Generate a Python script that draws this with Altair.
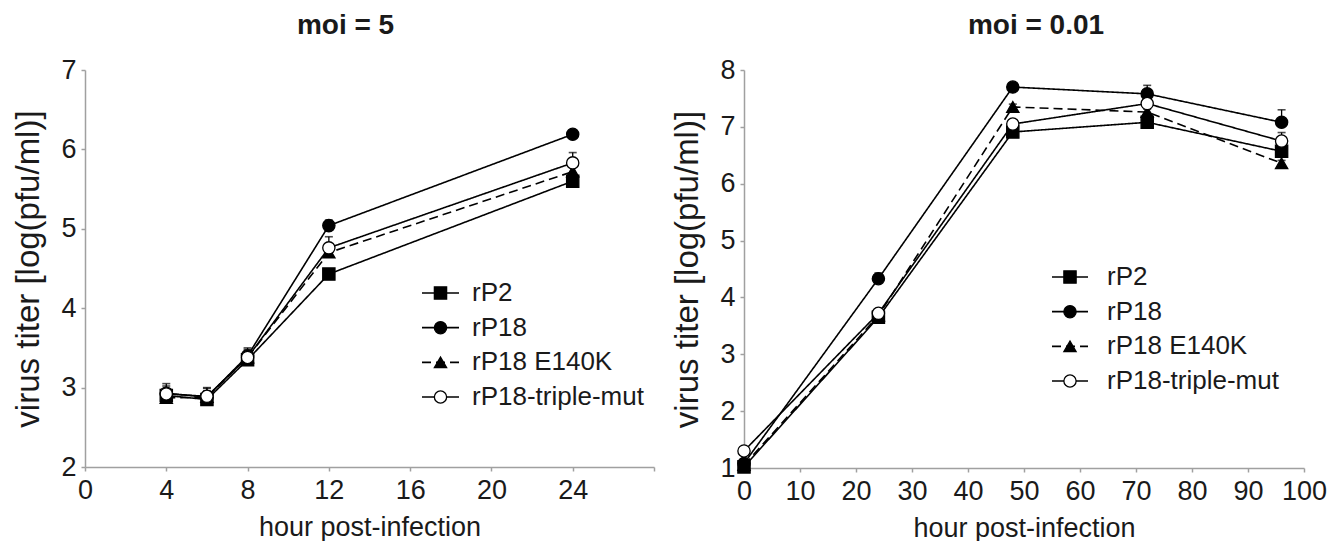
import altair as alt
import pandas as pd

FONT = "Liberation Sans"
series = ["rP2", "rP18", "rP18 E140K", "rP18-triple-mut"]

# ---- moi = 5 ----
hours_moi5 = [4, 6, 8, 12, 24]
moi5_rP2 = [2.90, 2.85, 3.35, 4.43, 5.60]
moi5_rP18 = [2.93, 2.88, 3.40, 5.04, 6.19]
moi5_E140K = [2.87, 2.88, 3.38, 4.70, 5.72]
moi5_triple = [2.92, 2.89, 3.38, 4.76, 5.83]
moi5_err_rP2 = [0.08, 0.08, 0.08, 0.05, 0.05]
moi5_err_rP18 = [0.12, 0.12, 0.10, 0.07, 0.05]
moi5_err_E140K = [0.08, 0.08, 0.08, 0.06, 0.07]
moi5_err_triple = [0.10, 0.10, 0.10, 0.14, 0.13]

# ---- moi = 0.01 ----
hours_moi001 = [0, 24, 48, 72, 96]
moi001_rP2 = [1.02, 3.65, 6.91, 7.08, 6.57]
moi001_rP18 = [1.08, 4.33, 7.70, 7.58, 7.08]
moi001_E140K = [1.05, 3.68, 7.35, 7.26, 6.36]
moi001_triple = [1.30, 3.72, 7.05, 7.41, 6.75]
moi001_err_rP2 = [0.05, 0.05, 0.05, 0.05, 0.05]
moi001_err_rP18 = [0.05, 0.10, 0.05, 0.15, 0.22]
moi001_err_E140K = [0.05, 0.05, 0.05, 0.05, 0.05]
moi001_err_triple = [0.05, 0.05, 0.05, 0.05, 0.15]


def long_table(hours, vals, errs):
    rows = []
    for s, v, e in zip(series, vals, errs):
        for h, vv, ee in zip(hours, v, e):
            rows.append({"series": s, "hour": h, "titer": vv, "err": ee})
    return pd.DataFrame(rows)


df5 = long_table(hours_moi5,
                 [moi5_rP2, moi5_rP18, moi5_E140K, moi5_triple],
                 [moi5_err_rP2, moi5_err_rP18, moi5_err_E140K, moi5_err_triple])
df001 = long_table(hours_moi001,
                   [moi001_rP2, moi001_rP18, moi001_E140K, moi001_triple],
                   [moi001_err_rP2, moi001_err_rP18, moi001_err_E140K, moi001_err_triple])
legend_df = pd.DataFrame({"series": series})

point_shapes = ["square", "circle", "triangle-up", "circle"]
point_fills = ["black", "black", "black", "white"]
dash_scale = alt.Scale(domain=series, range=[[1, 0], [1, 0], [9, 5], [1, 0]])


def panel(df, xdom, xticks, ydom, yticks, title, title_dx, leg_rows, leg_x0, leg_w, leg_lx, ytp, w, h,
          label_expr=None):
    xaxis_kw = dict(values=xticks, title="hour post-infection")
    if label_expr:
        xaxis_kw["labelExpr"] = label_expr
    xaxis = alt.Axis(**xaxis_kw)
    yaxis = alt.Axis(values=yticks, title="virus titer [log(pfu/ml)]", titlePadding=ytp)
    xs = alt.Scale(domain=xdom, nice=False, zero=False)
    ys = alt.Scale(domain=ydom, nice=False, zero=False)
    X = alt.X("hour:Q", scale=xs, axis=xaxis)
    Y = alt.Y("titer:Q", scale=ys, axis=yaxis)
    base = alt.Chart(df)

    lines = base.mark_line(color="black", strokeWidth=1.6).encode(
        x=X, y=Y, detail="series:N", order="hour:Q",
        strokeDash=alt.StrokeDash("series:N", scale=dash_scale, legend=None),
    )
    bars = base.transform_calculate(hi="datum.titer + datum.err").mark_rule(color="black", strokeWidth=1.3).encode(
        x=X, y=Y, y2="hi:Q")
    caps = base.transform_calculate(hi="datum.titer + datum.err").mark_tick(
        orient="horizontal", color="black", thickness=1.6, size=8).encode(
        x=X, y=alt.Y("hi:Q", scale=ys, axis=yaxis))
    pts = [
        base.transform_filter(alt.datum.series == s).mark_point(
            shape=sh, fill=fc, stroke="black", strokeWidth=1.3, opacity=1, size=150, filled=False
        ).encode(x=X, y=Y)
        for s, sh, fc in zip(series, point_shapes, point_fills)
    ]
    data_layer = alt.layer(lines, bars, caps, *pts)

    # legend drawn inside the plot: one row per series on its own point scale
    LY = alt.Y("series:N", scale=alt.Scale(type="point", domain=series, range=leg_rows, padding=0), axis=None)
    lb = alt.Chart(legend_df)
    leg_lines = lb.mark_rule(color="black", strokeWidth=1.6).encode(
        x=alt.value(leg_x0), x2=alt.value(leg_x0 + leg_w), y=LY,
        strokeDash=alt.StrokeDash("series:N", scale=dash_scale, legend=None))
    leg_marks = lb.mark_point(stroke="black", strokeWidth=1.3, opacity=1, size=150).encode(
        x=alt.value(leg_x0 + leg_w / 2), y=LY,
        shape=alt.Shape("series:N", scale=alt.Scale(domain=series, range=point_shapes), legend=None),
        fill=alt.Fill("series:N", scale=alt.Scale(domain=series, range=point_fills), legend=None))
    leg_text = lb.mark_text(align="left", baseline="middle", font=FONT, fontSize=26, color="#1a1a1a").encode(
        x=alt.value(leg_lx), y=LY, text="series:N")
    legend_layer = alt.layer(leg_lines, leg_marks, leg_text)

    return alt.layer(data_layer, legend_layer).resolve_scale(y="independent").properties(
        width=w, height=h,
        title=alt.TitleParams(title, font=FONT, fontSize=28, fontWeight="bold", color="#1a1a1a",
                              anchor="middle", offset=16, dx=title_dx),
    )


left = panel(df5, [0, 28], [0, 4, 8, 12, 16, 20, 24, 28], [2, 7], [2, 3, 4, 5, 6, 7], "moi = 5", -24,
             [223, 327], 337, 37, 387, 15, 569, 397, label_expr="datum.value == 28 ? '' : datum.label")
right = panel(df001, [0, 100], list(range(0, 101, 10)), [1, 8], list(range(1, 9)), "moi = 0.01", 12,
              [207, 311], 308, 36, 363, 15, 560, 398)

chart = alt.hconcat(left, right, spacing=16).properties(
    padding={"left": 4, "top": 4, "right": 0, "bottom": 0}
).configure_view(stroke=None).configure_axis(
    grid=False, domainColor="#a0a0a0", domainWidth=1.5, tickColor="#a0a0a0", tickWidth=1.5, tickSize=4,
    labelFont=FONT, labelFontSize=27, labelColor="#1a1a1a", labelPadding=5, labelFlush=False,
    titleFont=FONT, titleFontSize=27, titleFontWeight="normal", titleColor="#1a1a1a",
).configure_axisX(titlePadding=11, labelPadding=6).configure_axisY(titleFontSize=33)

chart.save("out.html", embed_options={"renderer": "svg", "actions": False})
